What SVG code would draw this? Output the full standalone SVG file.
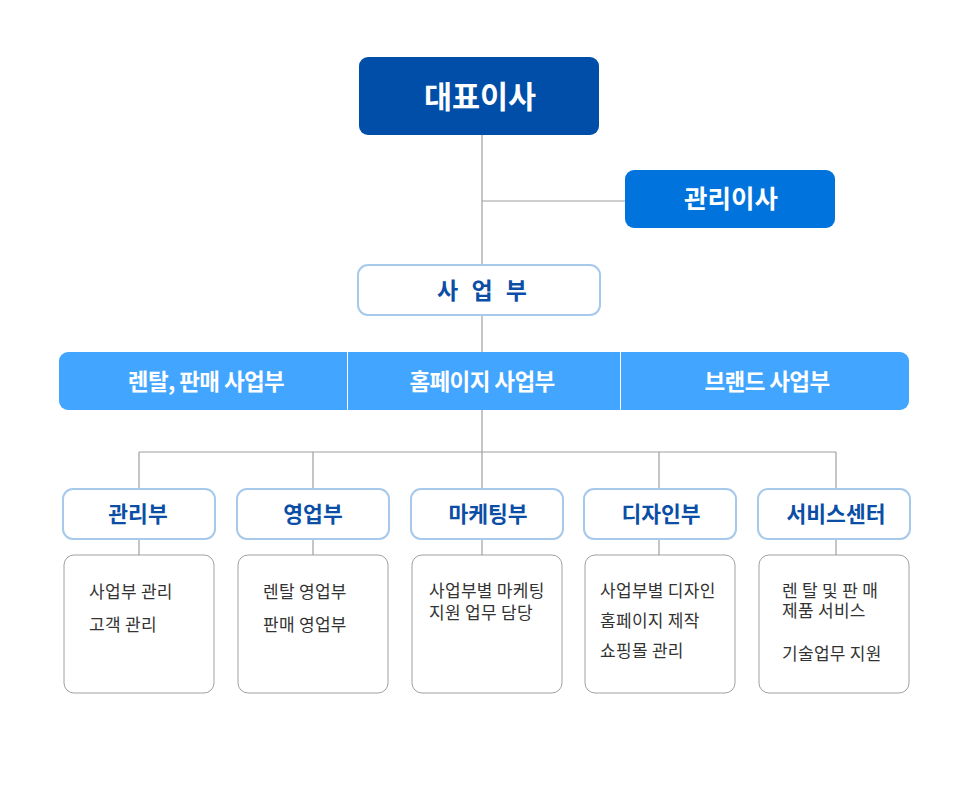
<svg xmlns="http://www.w3.org/2000/svg" width="976" height="800" viewBox="0 0 976 800">
<style>
.f{font-family:"Noto Sans CJK KR","Noto Sans",sans-serif}
.w{fill:#ffffff;font-weight:700;text-anchor:middle}
.hd{fill:#ffffff;stroke:#a6c9ec;stroke-width:2}
.ht{fill:#0b4ea6;font-weight:700;font-size:21.5px;text-anchor:middle}
.bx{fill:#ffffff;stroke:#a0a0a0;stroke-width:1}
.bt{fill:#333333;font-size:17px;letter-spacing:0.3px}
.ln{stroke:#a0a0a0;stroke-width:1.2;fill:none}
</style>
<rect width="976" height="800" fill="#ffffff"/>
<g id="connectors">
<path class="ln" d="M482 135V265M482 201H625M482 315V352M482 410V452M139 452H836M139 452V489M313 452V489M482 452V489M659 452V489M836 452V489M139 539V555M313 539V555M482 539V555M659 539V555M836 539V555"/>
</g>
<g id="ceo"><rect x="359" y="57" width="240" height="78" rx="9" fill="#004ea8"/><text class="f w" x="480" y="108" font-size="30.5">대표이사</text></g>
<g id="director"><rect x="625" y="170" width="210" height="58" rx="9" fill="#0074dc"/><text class="f w" x="731" y="208" font-size="25.5">관리이사</text></g>
<g id="business"><rect x="358" y="265" width="242" height="50" rx="10" class="hd"/><text class="f ht" x="484" y="299" style="font-size:23px;letter-spacing:4px">사 업 부</text></g>
<g id="divisions">
<rect x="59" y="352" width="850" height="58" rx="9" fill="#42a5ff"/>
<path d="M347.5 352V410M620.5 352V410" stroke="#ffffff" stroke-width="1"/>
<text class="f w" x="206" y="390" font-size="22.5" letter-spacing="-0.6">렌탈, 판매 사업부</text>
<text class="f w" x="482" y="390" font-size="22.5" letter-spacing="-0.6">홈페이지 사업부</text>
<text class="f w" x="767" y="390" font-size="22.5" letter-spacing="-0.6">브랜드 사업부</text>
</g>
<g id="mgmt"><rect x="63" y="489" width="152" height="50" rx="10" class="hd"/><text class="f ht" x="138" y="522">관리부</text>
<rect x="64" y="555" width="150" height="138" rx="10" class="bx"/><text class="f bt" x="89" y="598">사업부 관리</text><text class="f bt" x="89" y="631">고객 관리</text></g>
<g id="sales"><rect x="237" y="489" width="152" height="50" rx="10" class="hd"/><text class="f ht" x="313" y="522">영업부</text>
<rect x="238" y="555" width="150" height="138" rx="10" class="bx"/><text class="f bt" x="263" y="598">렌탈 영업부</text><text class="f bt" x="263" y="631">판매 영업부</text></g>
<g id="marketing"><rect x="411" y="489" width="152" height="50" rx="10" class="hd"/><text class="f ht" x="488" y="522">마케팅부</text>
<rect x="412" y="555" width="150" height="138" rx="10" class="bx"/><text class="f bt"><tspan x="429" y="597">사업부별 마케팅</tspan><tspan x="429" y="619">지원 업무 담당</tspan></text></g>
<g id="design"><rect x="584" y="489" width="152" height="50" rx="10" class="hd"/><text class="f ht" x="661" y="522">디자인부</text>
<rect x="585" y="555" width="150" height="138" rx="10" class="bx"/><text class="f bt" x="600" y="597">사업부별 디자인</text><text class="f bt" x="600" y="627">홈페이지 제작</text><text class="f bt" x="600" y="657">쇼핑몰 관리</text></g>
<g id="service"><rect x="758" y="489" width="152" height="50" rx="10" class="hd"/><text class="f ht" x="836" y="522">서비스센터</text>
<rect x="759" y="555" width="150" height="138" rx="10" class="bx"/><text class="f bt"><tspan x="782" y="597">렌 탈 및 판 매</tspan><tspan x="782" y="617">제품 서비스</tspan></text><text class="f bt" x="782" y="660">기술업무 지원</text></g>
</svg>
